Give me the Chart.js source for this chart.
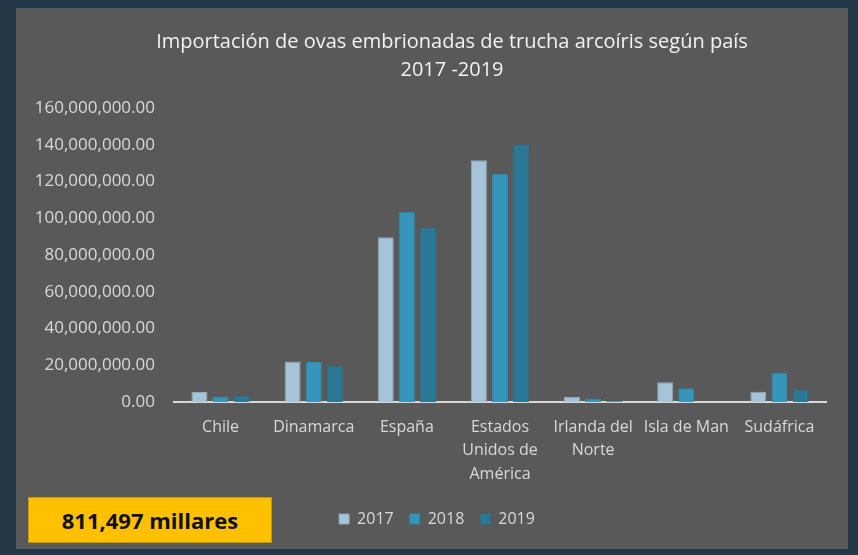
<!DOCTYPE html>
<html>
<head>
<meta charset="utf-8">
<script src="https://cdn.jsdelivr.net/npm/chart.js@4.4.0/dist/chart.umd.min.js"></script>
<style>
  html, body { margin: 0; padding: 0; background: #243746; }
  body { width: 858px; height: 555px; position: relative; overflow: hidden; }
  #panel { position: absolute; left: 16px; top: 8px; width: 832px; height: 541px; background: #595959; }
  #total {
    position: absolute; left: 28px; top: 497px; width: 242px; height: 44px;
    background: #ffc000; border: 1px solid #c99700;
    font: bold 22px "Open Sans", sans-serif; color: #111;
    display: flex; align-items: center; justify-content: center;
  }
</style>
</head>
<body>
<div id="panel"><canvas id="chart" width="832" height="541"></canvas></div>
<div id="total">811,497 millares</div>
<script>
const categories = ["Chile", "Dinamarca", "España", ["Estados", "Unidos de", "América"], ["Irlanda del", "Norte"], "Isla de Man", "Sudáfrica"];
const years = ["2017", "2018", "2019"];
const values2017 = [5400000, 22000000, 89700000, 131600000, 2900000, 10800000, 5600000];
const values2018 = [3000000, 21800000, 103600000, 124100000, 1600000, 7500000, 15800000];
const values2019 = [3400000, 19700000, 94900000, 140200000, 500000, 0, 6700000];
const titleLines = ["Importación de ovas embrionadas de trucha arcoíris según país", "2017 -2019"];

const colors = ['#a6c4d7', '#3595bb', '#2a7895'];
const borders = ['#8ea9ba', '#2f89ad', '#287190'];
const labelColor = '#d9d9d9';
const font = "'Open Sans', sans-serif";

// title drawn by hand so it can sit a bit right of the canvas center, like the original
const titlePlugin = {
    id: 'customTitle',
    afterLayout(chart) {
        // nudge the legend to the right, it is not centred on the plot in the original
        chart.legend.left += 16;
        chart.legend.right += 16;
    },
    afterDraw(chart) {
        const ctx = chart.ctx;
        ctx.save();
        ctx.fillStyle = '#f2f2f2';
        ctx.font = "20px " + font;
        ctx.textAlign = 'center';
        ctx.textBaseline = 'middle';
        ctx.fillText(titleLines[0], 436, 34);
        ctx.fillText(titleLines[1], 436, 62);
        ctx.restore();
    }
};

const datasets = [values2017, values2018, values2019].map((vals, i) => ({
    label: years[i],
    data: vals,
    backgroundColor: colors[i],
    borderColor: borders[i],
    borderWidth: 1,
    categoryPercentage: 0.68,
    barPercentage: 0.76
}));

new Chart(document.getElementById('chart'), {
    type: 'bar',
    data: { labels: categories, datasets: datasets },
    plugins: [titlePlugin],
    options: {
        responsive: false,
        animation: false,
        layout: { padding: { top: 100, right: 22, bottom: 12, left: 0 } },
        plugins: {
            title: { display: false },
            tooltip: { enabled: false },
            legend: {
                position: 'bottom',
                labels: {
                    color: labelColor,
                    font: { family: font, size: 16 },
                    boxWidth: 10,
                    boxHeight: 10,
                    padding: 16
                }
            }
        },
        scales: {
            x: {
                grid: { display: false },
                border: { display: true, color: '#d9d9d9', width: 2 },
                ticks: {
                    color: labelColor,
                    font: { family: font, size: 16, lineHeight: 1.45 },
                    padding: 6,
                    maxRotation: 0,
                    autoSkip: false
                },
                afterFit(scale) { scale.height = 93; }
            },
            y: {
                min: 0,
                max: 160000000,
                grid: { display: false },
                border: { display: false },
                ticks: {
                    stepSize: 20000000,
                    color: labelColor,
                    font: { family: font, size: 17 },
                    padding: 11,
                    callback: v => v.toLocaleString('en-US', { minimumFractionDigits: 2, maximumFractionDigits: 2 })
                },
                afterFit(scale) { scale.width = 158; }
            }
        }
    }
});
</script>
</body>
</html>
